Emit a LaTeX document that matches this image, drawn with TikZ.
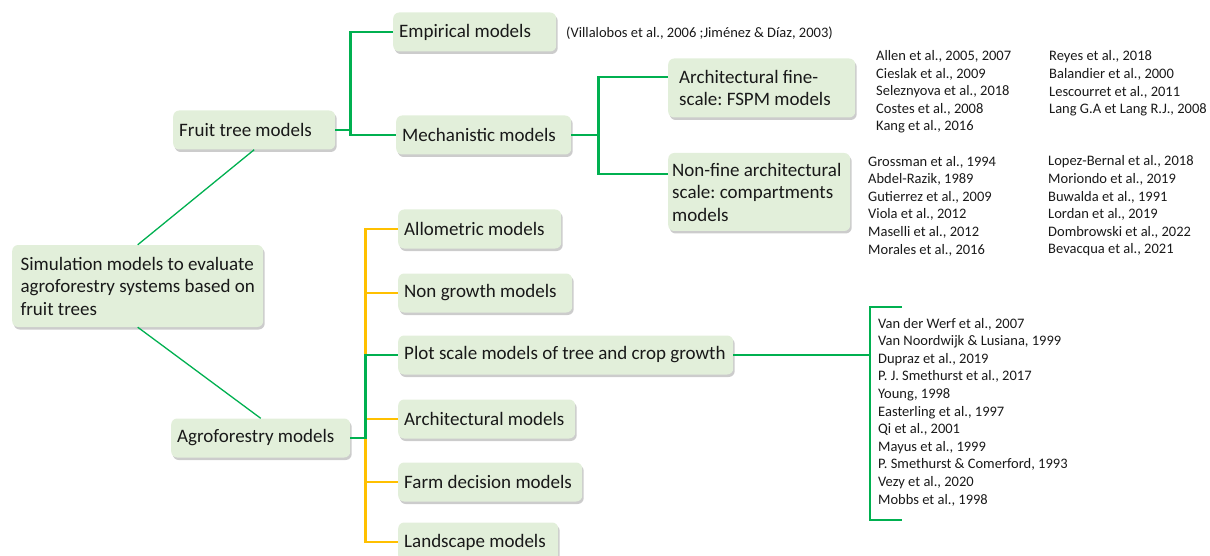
\documentclass[tikz,border=0pt]{standalone}
\usepackage{fontspec}
\setmainfont{Carlito}
\frenchspacing
\usetikzlibrary{positioning, shadows, calc}
\definecolor{boxgreen}{RGB}{226,239,218}
\definecolor{linegreen}{RGB}{0,176,80}
\definecolor{lineyellow}{RGB}{255,192,0}
\definecolor{textdark}{RGB}{25,25,25}

\begin{document}
\begin{tikzpicture}[
    x=1pt, y=-1pt,
    box/.style={fill=boxgreen, rounded corners=6pt, anchor=west, align=flush left, inner xsep=6pt, inner ysep=0pt, minimum height=39pt, text=textdark, font=\fontsize{19}{22.5}\selectfont, drop shadow={shadow xshift=1.5pt, shadow yshift=-2.5pt, fill=black!40, opacity=0.5}},
    refs/.style={anchor=west, align=flush left, inner sep=0pt, text=textdark, font=\fontsize{14.5}{17.6}\selectfont},
    branch/.style={draw=linegreen, line width=2.5pt},
    yellowbranch/.style={draw=lineyellow, line width=2.5pt},
    stem/.style={draw=linegreen, line width=1.3pt}
]
    \useasboundingbox (0,0) rectangle (1210,556);

    % Root and the two families
    \node[box, minimum width=251pt, minimum height=82pt] (root) at (12,286) {Simulation models to evaluate\\agroforestry systems based on\\fruit trees};
    \node[box, text width=150] (fruit) at (173,130) {Fruit tree models};
    \node[box, text width=167] (agro) at (171,438) {Agroforestry models};

    \draw[stem] (root.north) -- (fruit.south);
    \draw[stem] (root.south) -- (agro.north);

    % Fruit tree models
    \node[box, text width=151] (emp) at (393,32) {Empirical models};
    \node[box, text width=163] (mech) at (396,135) {Mechanistic models};
    \node[refs] (empref) at (566,33) {(Villalobos et al., 2006 ;Jiménez \& Díaz, 2003)};

    \draw[branch] (fruit.east) -- ++(15,0) |- (emp.west);
    \draw[branch] (fruit.east) -- ++(15,0) |- (mech.west);

    \node[box, text width=165, inner xsep=11pt, minimum height=59pt] (fspm) at (668,88) {Architectural fine-\\scale: FSPM models};
    \node[box, text width=174, inner xsep=4pt, minimum height=78pt] (compart) at (668,192) {Non-fine architectural\\scale: compartments\\models};

    \draw[branch] (mech.east) -- ++(27,0) |- ([yshift=11pt]fspm.west);
    \draw[branch] (mech.east) -- ++(27,0) |- ([yshift=18pt]compart.west);

    \node[refs] (fspmref1) at (876,92) {Allen et al., 2005, 2007\\Cieslak et al., 2009\\Seleznyova et al., 2018\\Costes et al., 2008\\Kang et al., 2016};
    \node[refs] (fspmref2) at (1049,83.5) {Reyes et al., 2018\\Balandier et al., 2000\\Lescourret et al., 2011\\Lang G.A et Lang R.J., 2008};
    \node[refs] (compref1) at (868,206) {Grossman et al., 1994\\Abdel-Razik, 1989\\Gutierrez et al., 2009\\Viola et al., 2012\\Maselli et al., 2012\\Morales et al., 2016};
    \node[refs] (compref2) at (1048,206) {Lopez-Bernal et al., 2018\\Moriondo et al., 2019\\Buwalda et al., 1991\\Lordan et al., 2019\\Dombrowski et al., 2022\\Bevacqua et al., 2021};

    % Agroforestry models
    \node[box, text width=151] (allo) at (398,229) {Allometric models};
    \node[box, text width=162] (nongrowth) at (398,293) {Non growth models};
    \node[box, text width=323] (plot) at (398,355) {Plot scale models of tree and crop growth};
    \node[box, text width=165] (archi) at (398,419) {Architectural models};
    \node[box, text width=172] (farm) at (398,482) {Farm decision models};
    \node[box, text width=148] (land) at (398,542) {Landscape models};

    \foreach \n in {allo, nongrowth, archi, farm, land}
        \draw[yellowbranch] (agro.east) ++(15,0) |- (\n.west);
    \draw[branch] (agro.east) -- ++(15,0) |- (plot.west);

    % Plot scale references
    \coordinate (bracket) at (870,355);
    \draw[branch] (plot.east) -- (bracket);
    \draw[branch] (902,307) -- (870,307) -- (870,520) -- (902,520);
    \node[refs] (plotref) at (878,412) {Van der Werf et al., 2007\\Van Noordwijk \& Lusiana, 1999\\Dupraz et al., 2019\\P. J. Smethurst et al., 2017\\Young, 1998\\Easterling et al., 1997\\Qi et al., 2001\\Mayus et al., 1999\\P. Smethurst \& Comerford, 1993\\Vezy et al., 2020\\Mobbs et al., 1998};
\end{tikzpicture}
\end{document}
